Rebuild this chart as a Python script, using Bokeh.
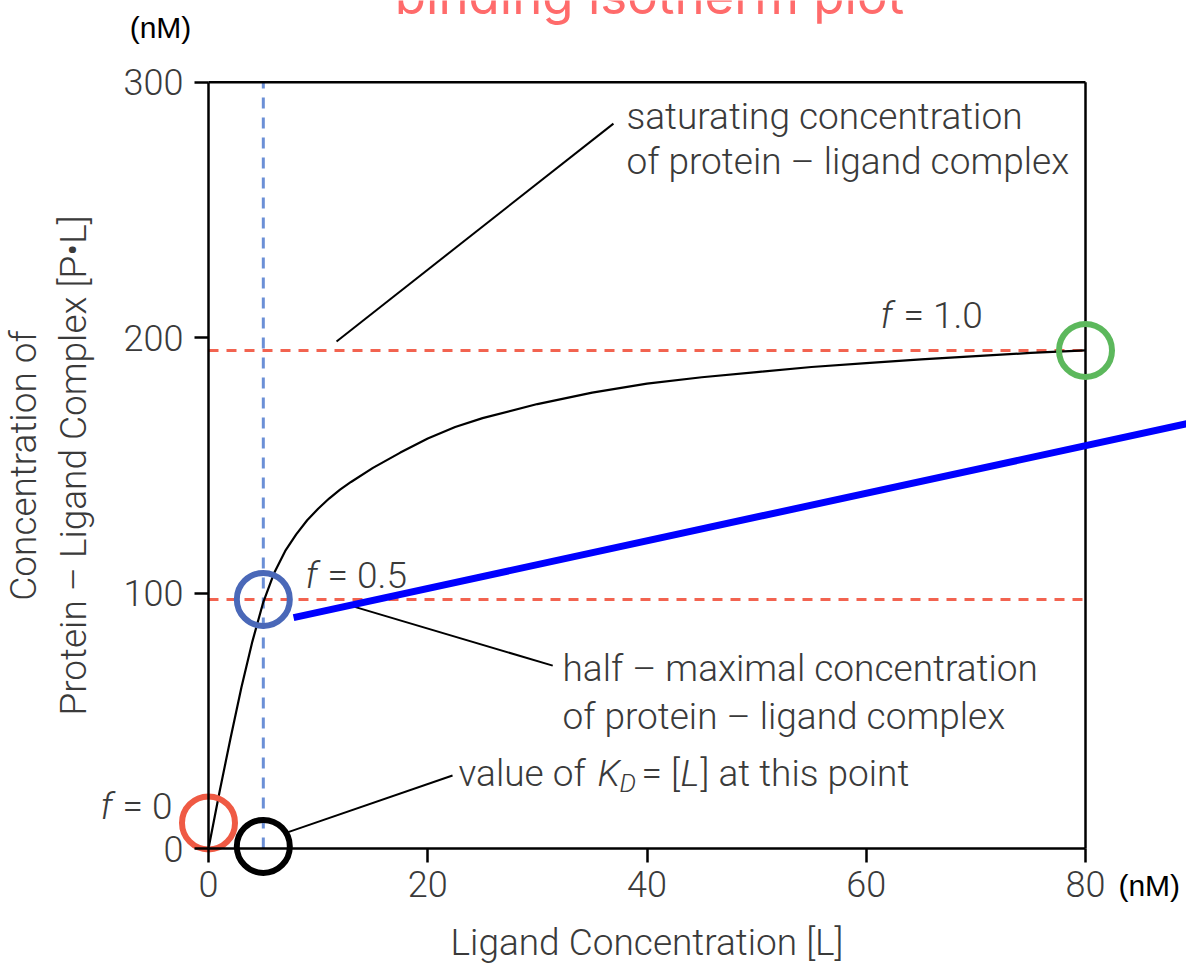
from bokeh.plotting import figure
from bokeh.models import LinearAxis, FixedTicker, Label, Range1d
from bokeh.embed import file_html
from bokeh.resources import INLINE

# ---------------- data ----------------
ligand_nM = [0, 1, 2, 3, 4, 5, 6, 7, 8, 9, 10, 11, 12, 13, 15, 17.5, 20, 22.5, 25,
             30, 35, 40, 45, 50, 55, 60, 65, 70, 75, 80]
complex_nM = [0, 22, 43, 63, 81, 96.5, 108, 116.5, 123, 128.5, 133, 137, 140.5, 143.5, 149,
              155, 160.5, 165, 168.5, 174, 178.5, 182, 184.5, 186.5, 188.5, 190, 191.5,
              192.8, 194, 195]

x_ticks = [0, 20, 40, 60, 80]
y_ticks = [0, 100, 200, 300]
x_bounds = (0, 80)
y_bounds = (0, 300)

KD = 5          # nM
BMAX = 195      # saturating level (f = 1.0)
HALF = 97.5     # half-maximal level (f = 0.5)

# highlighted points: f=0, K_D on axis, f=0.5, f=1.0
mark_x = [0, 5, 5, 80]
mark_y = [10, 0.8, 97.5, 195]
mark_colors = ["#ef5a44", "#000000", "#4a68b8", "#5cb85c"]

# blue straight line drawn over the chart
blue_x = [7.76, 92]
blue_y = [90.4, 168.9]

# leader lines of the annotations
lead_x0 = [11.68, 12.95, 7.2]
lead_y0 = [198.5, 95.1, 6.3]
lead_x1 = [36.94, 31.4, 22.26]
lead_y1 = [283.8, 71.6, 28.6]

TXT = "#3a3a3a"
FONT = "Roboto Light"

p = figure(width=1186, height=963,
           x_range=Range1d(-18.974, 89.213), y_range=Range1d(-45.02, 331.99),
           output_backend="svg", toolbar_location=None,
           x_axis_location=None, y_axis_location=None,
           min_border=0, outline_line_color=None,
           background_fill_color="white", border_fill_color="white")
p.grid.visible = False

# axes fixed at 0
xaxis = LinearAxis(fixed_location=0, bounds=x_bounds, ticker=FixedTicker(ticks=x_ticks),
                   axis_label="Ligand Concentration [L]")
yaxis = LinearAxis(fixed_location=0, bounds=y_bounds, ticker=FixedTicker(ticks=y_ticks),
                   axis_label="Concentration of\nProtein \u2013 Ligand Complex [P\u2022L]")
for ax in (xaxis, yaxis):
    ax.axis_line_width = 2.5
    ax.axis_line_color = "black"
    ax.major_tick_line_width = 2.5
    ax.major_tick_line_color = "black"
    ax.major_tick_in = 0
    ax.major_tick_out = 14
    ax.minor_tick_in = 0
    ax.minor_tick_out = 0
    ax.major_label_text_font = FONT
    ax.major_label_text_font_size = "36px"
    ax.major_label_text_color = TXT
    ax.axis_label_text_font = FONT
    ax.axis_label_text_font_size = "37px"
    ax.axis_label_text_font_style = "normal"
    ax.axis_label_text_color = TXT
    ax.axis_label_text_line_height = 1.15
xaxis.major_label_standoff = 8
xaxis.axis_label_standoff = 21
yaxis.major_label_standoff = 11
yaxis.axis_label_standoff = 26
p.add_layout(xaxis, "below")
p.add_layout(yaxis, "left")

# dashed guide lines
p.segment(x0=[x_bounds[0], x_bounds[0]], y0=[BMAX, HALF], x1=[x_bounds[1], x_bounds[1]], y1=[BMAX, HALF],
          line_color="#f26350", line_width=3, line_dash="10 8")
p.segment(x0=[KD], y0=[y_bounds[0]], x1=[KD], y1=[y_bounds[1]],
          line_color="#6b8fd6", line_width=3, line_dash="11 9")

# frame top / right
p.segment(x0=[x_bounds[0], x_bounds[1]], y0=[y_bounds[1], y_bounds[0]],
          x1=[x_bounds[1], x_bounds[1]], y1=[y_bounds[1], y_bounds[1]],
          line_color="black", line_width=2.5)

# binding curve
p.line(ligand_nM, complex_nM, line_color="black", line_width=2.2, line_join="round")

# leader lines
p.segment(x0=lead_x0, y0=lead_y0, x1=lead_x1, y1=lead_y1, line_color="black", line_width=2)

# circles
p.scatter(mark_x, mark_y, marker="circle", size=53, fill_color=None,
          line_color=mark_colors, line_width=6)

# blue line
p.line(blue_x, blue_y, line_color="#0000ff", line_width=7)


def lab(x, y, s, size="37px", style="normal", color=TXT, align="left",
        baseline="middle", font=FONT, xo=0, yo=0):
    p.add_layout(Label(x=x, y=y, text=s, text_font_size=size, text_font_style=style,
                       text_color=color, text_align=align, text_baseline=baseline,
                       text_font=font, x_offset=xo, y_offset=yo))


# title (cut by the top edge, as in the source)
lab(40.23, 333.8, "binding isotherm plot", size="51px", color="#ff6b6b",
    align="center", baseline="alphabetic", font="Inter")

# units
lab(-4.38, 321.4, "(nM)", size="30px", color="black", align="center", font="Liberation Sans")
lab(83.0, -14.49, "(nM)", size="30px", color="black", font="Liberation Sans")

# annotations
lab(38.13, 286.6, "saturating concentration")
lab(38.13, 268.96, "of protein \u2013 ligand complex")
lab(32.29, 70.47, "half \u2013 maximal concentration")
lab(32.29, 51.68, "of protein \u2013 ligand complex")

lab(61.30, 208.67, "f", style="italic")
lab(63.40, 208.67, "= 1.0")
lab(8.85, 106.88, "f", style="italic")
lab(10.86, 106.88, "= 0.5")
lab(-9.85, 16.44, "f", style="italic")
lab(-7.85, 16.44, "= 0")

lab(22.81, 29.36, "value of")
lab(22.81, 29.36, "K", style="italic", xo=139)
lab(22.81, 29.36, "D", size="26px", style="italic", xo=161, yo=-9)
lab(22.81, 29.36, "= [", xo=183)
lab(22.81, 29.36, "L", style="italic", xo=222)
lab(22.81, 29.36, "] at this point", xo=242)

html = file_html(p, INLINE, "binding isotherm plot")
with open("out.html", "w") as f:
    f.write(html)
